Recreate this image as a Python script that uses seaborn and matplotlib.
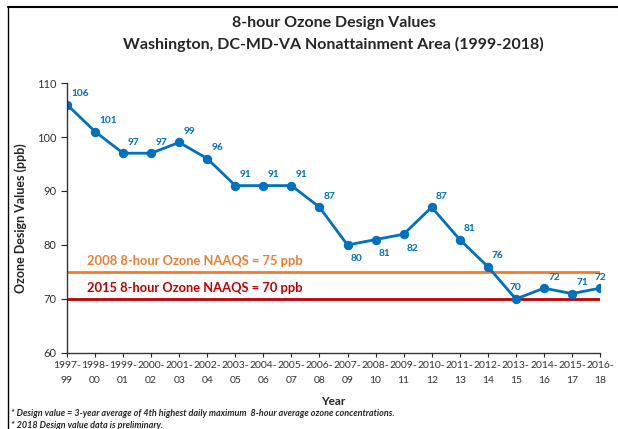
import matplotlib
matplotlib.use("Agg")
import matplotlib.pyplot as plt
import seaborn as sns
import pandas as pd
from matplotlib.lines import Line2D

sns.set_style("white")
plt.rcParams['font.family'] = ['Lato', 'DejaVu Sans']

# data
periods = ["1997-\n99", "1998-\n00", "1999-\n01", "2000-\n02", "2001-\n03", "2002-\n04",
           "2003-\n05", "2004-\n06", "2005-\n07", "2006-\n08", "2007-\n09", "2008-\n10",
           "2009-\n11", "2010-\n12", "2011-\n13", "2012-\n14", "2013-\n15", "2014-\n16",
           "2015-\n17", "2016-\n18"]
design_values = [106, 101, 97, 97, 99, 96, 91, 91, 91, 87, 80, 81, 82, 87, 81, 76, 70, 72, 71, 72]
below = [False] * 10 + [True, True, True] + [False] * 7
naaqs_2008 = 75
naaqs_2015 = 70

df = pd.DataFrame({"pos": range(len(periods)), "value": design_values})

blue = "#0070C0"
orange = "#ED7D31"
red = "#C00000"

fig = plt.figure(figsize=(6.18, 4.29), dpi=100)
ax = fig.add_axes([0.1084, 0.1772, 0.8625, 0.6293])

ax.axhline(naaqs_2008, color=orange, lw=2)
ax.axhline(naaqs_2015, color=red, lw=2)
sns.lineplot(data=df, x="pos", y="value", ax=ax, color=blue, lw=2,
             marker="o", markersize=6, markeredgecolor=blue)

last = len(design_values) - 1
for i, v in enumerate(design_values):
    if below[i]:
        off, ha = (2, -10), "left"
    elif v == 70 or i == last:
        off, ha = (0, 8), "center"
    else:
        off, ha = (3, 8), "left"
    ax.annotate(str(v), (i, v), xytext=off, textcoords="offset points",
                ha=ha, va="center", fontsize=7.3, color=blue, fontweight="bold")

ax.text(0.7, 75.9, "2008 8-hour Ozone NAAQS = 75 ppb", color=orange, fontsize=9.3,
        fontweight="bold", va="bottom")
ax.text(0.7, 70.9, "2015 8-hour Ozone NAAQS = 70 ppb", color=red, fontsize=9.3,
        fontweight="bold", va="bottom")

ax.set_xlim(0, len(periods) - 1)
ax.set_ylim(60, 110)
ax.set_yticks([60, 70, 80, 90, 100, 110])
ax.set_xticks(range(len(periods)))
ax.set_xticklabels(periods, fontsize=7.5, color="#333333", linespacing=1.75)
ax.tick_params(axis="y", labelsize=8, labelcolor="#333333", length=4, direction="out", left=True)
ax.tick_params(axis="x", length=3, direction="out", bottom=True, pad=3)
for s in ["top", "right"]:
    ax.spines[s].set_visible(False)
for s in ["left", "bottom"]:
    ax.spines[s].set_color("#333333")
    ax.spines[s].set_linewidth(1)

ax.set_xlabel("Year", fontsize=8.5, fontweight="bold", labelpad=8)
ax.set_ylabel("Ozone Design Values (ppb)", fontsize=9, fontweight="bold", labelpad=7)

fig.text(0.54, 0.947, "8-hour Ozone Design Values", ha="center", va="center",
         fontsize=11.5, fontweight="bold")
fig.text(0.54, 0.896, "Washington, DC-MD-VA Nonattainment Area (1999-2018)", ha="center",
         va="center", fontsize=11.5, fontweight="bold")

fig.text(0.018, 0.037, "* Design value = 3-year average of 4th highest daily maximum  8-hour average ozone concentrations.",
         fontsize=6.5, fontweight="bold", style="italic", va="center")
fig.text(0.018, 0.008, "* 2018 Design value data is preliminary.",
         fontsize=6.5, fontweight="bold", style="italic", va="center")

# outer border of the chart area
fig.add_artist(Line2D([0.013, 1.0], [0.984, 0.984], color="black", lw=1.5, transform=fig.transFigure))
fig.add_artist(Line2D([0.013, 0.013], [0.0, 0.984], color="black", lw=1, transform=fig.transFigure))

fig.savefig("out.png", dpi=100)
